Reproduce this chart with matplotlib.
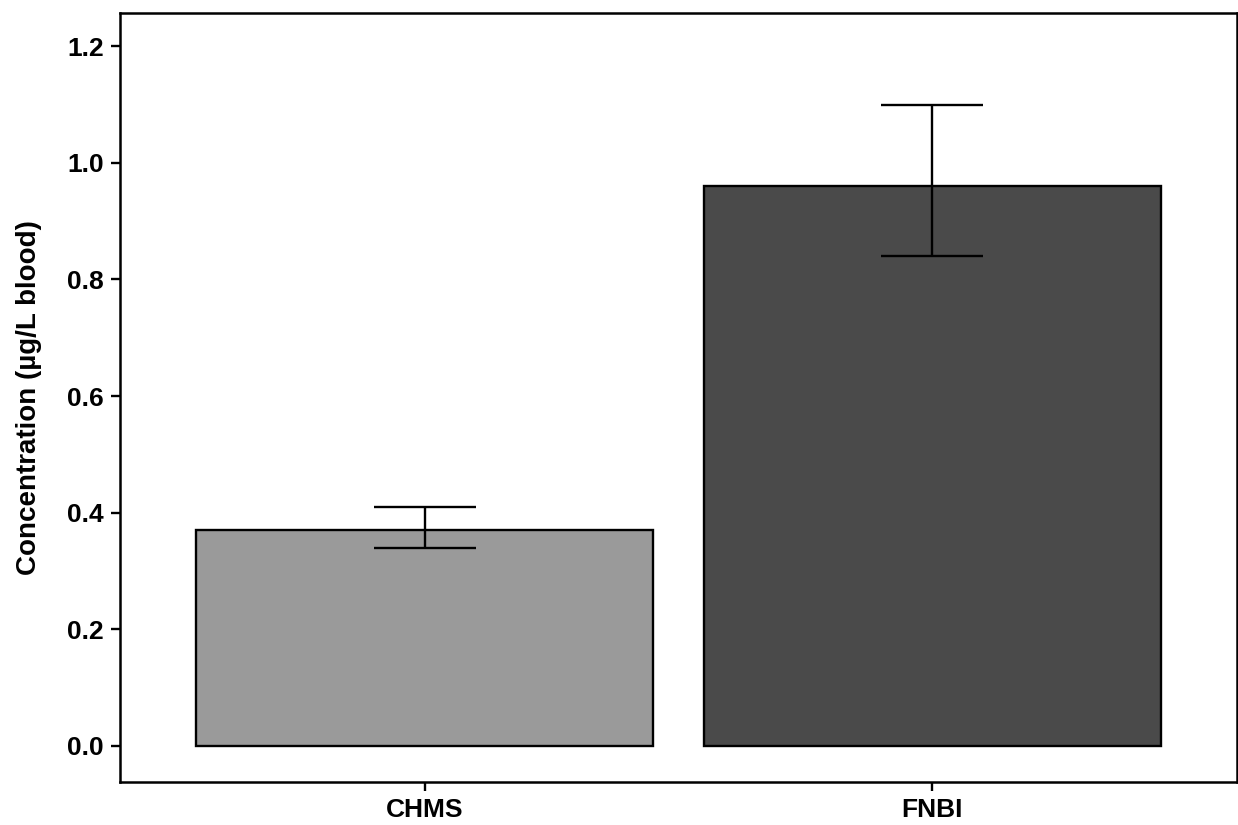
import numpy as np
import matplotlib.pyplot as plt

# ============================================================
# Data
# ============================================================
GROUPS = ["CHMS", "FNBI"]
MEANS = [0.37, 0.96]
LOWER = [0.34, 0.84]
UPPER = [0.41, 1.10]
COLORS = ["#9a9a9a", "#4a4a4a"]

plt.rcParams["font.family"] = ["Liberation Sans", "DejaVu Sans"]
plt.rcParams["font.weight"] = "bold"

fig = plt.figure(figsize=(12.38, 8.25), dpi=100)
ax = fig.add_axes([120 / 1238, 1 - 782 / 825, (1237 - 120) / 1238, (782 - 13) / 825])

x = np.arange(len(GROUPS))
means = np.array(MEANS)
yerr = np.vstack([means - np.array(LOWER), np.array(UPPER) - means])

ax.bar(x, means, width=0.9, color=COLORS, edgecolor="black", linewidth=1.7, zorder=2)
ax.errorbar(x, means, yerr=yerr, fmt="none", ecolor="black", elinewidth=1.7,
            capsize=36.7, capthick=1.7, zorder=3)

ax.set_xlim(-0.6, 1.6)
ax.set_ylim(-0.062, 1.257)
ax.set_xticks(x)
ax.set_xticklabels(GROUPS)
ax.set_yticks(np.arange(0, 1.21, 0.2))
ax.set_yticklabels([f"{v:.1f}" for v in np.arange(0, 1.21, 0.2)])

for s in ax.spines.values():
    s.set_linewidth(1.8)
ax.tick_params(axis="both", length=6.5, width=1.7, labelsize=19, pad=5)
ax.set_ylabel("Concentration (µg/L blood)", fontsize=20, fontweight="bold", labelpad=18)

fig.savefig("out.png", dpi=100)
